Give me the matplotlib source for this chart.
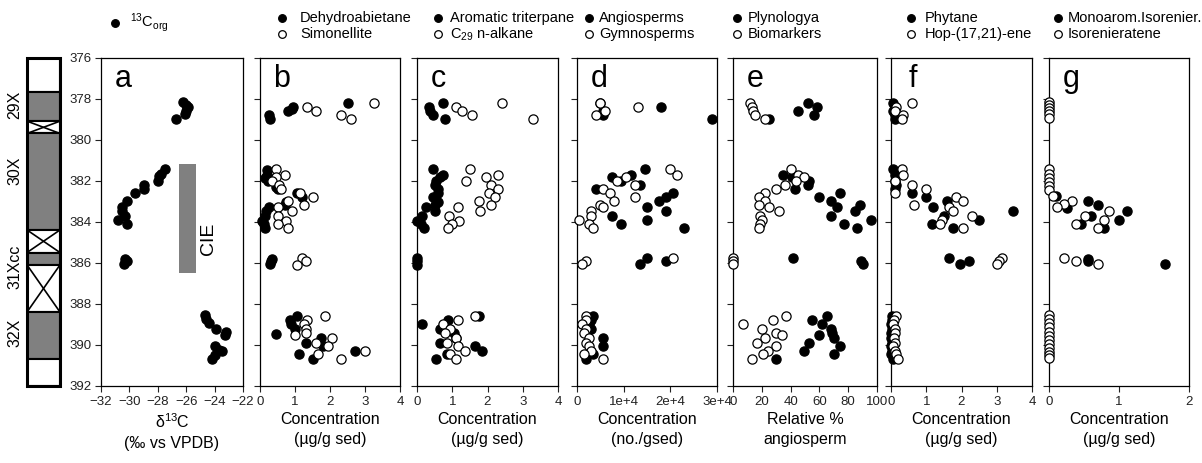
import matplotlib
matplotlib.use('Agg')
import matplotlib.pyplot as plt
from matplotlib.lines import Line2D
from matplotlib.patches import Rectangle

plt.rcParams['font.family'] = ['Liberation Sans', 'DejaVu Sans']
plt.rcParams['mathtext.fontset'] = 'custom'
plt.rcParams['mathtext.rm'] = 'Liberation Sans'
plt.rcParams['mathtext.default'] = 'regular'

# ---- data ----
# panel a : d13C org
a_depth = [378.15, 378.3, 378.4, 378.6, 378.75, 379.0, 381.45, 381.65, 381.75, 382.0, 382.2, 382.4, 382.6,
           383.0, 383.3, 383.5, 383.7, 383.9, 384.1, 385.8, 385.9, 386.05,
           388.55, 388.75, 388.95, 389.2, 389.35, 389.5, 390.05, 390.25, 390.3, 390.5, 390.7]
a_d13c = [-26.2, -26.0, -25.9, -26.0, -26.1, -26.7, -27.5, -27.8, -27.9, -28.0, -29.0, -29.0, -29.6,
          -30.2, -30.5, -30.5, -30.3, -30.8, -30.2, -30.3, -30.2, -30.4,
          -24.7, -24.6, -24.4, -23.9, -23.2, -23.3, -24.0, -23.7, -23.5, -24.0, -24.2]

# panel b
b_dehy_depth = [378.2, 378.4, 378.5, 378.6, 378.8, 379.0, 381.5, 381.7, 381.85, 382.0, 382.3, 382.4,
                382.6, 382.8, 383.05, 383.2, 383.3, 383.5, 383.7, 383.95, 384.1, 384.3, 385.8, 385.9, 386.05,
                388.6, 388.8, 389.0, 389.2, 389.45, 389.65, 389.9, 390.05, 390.3, 390.45, 390.7]
b_dehy = [2.5, 0.95, 0.9, 0.8, 0.25, 0.28, 0.2, 0.2, 0.15, 0.22, 0.45, 0.5,
          1.05, 1.2, 0.75, 0.7, 0.25, 0.18, 0.15, 0.05, 0.1, 0.15, 0.35, 0.32, 0.28,
          1.05, 0.85, 0.88, 1.0, 0.45, 1.75, 1.3, 1.8, 2.7, 1.1, 1.5]
b_simo_depth = [378.2, 378.4, 378.6, 378.8, 379.0, 381.45, 381.7, 381.8, 382.0, 382.2, 382.4, 382.6, 382.8,
                383.0, 383.2, 383.3, 383.5, 383.7, 383.95, 384.1, 384.3, 385.75, 385.9, 386.1,
                388.6, 388.8, 389.0, 389.2, 389.4, 389.5, 389.65, 389.9, 390.05, 390.3, 390.45, 390.7]
b_simo = [3.25, 1.35, 1.6, 2.3, 2.6, 0.45, 0.7, 0.45, 0.33, 0.55, 0.6, 1.15, 1.5,
          0.8, 1.25, 0.5, 0.9, 0.5, 0.75, 0.5, 0.8, 1.2, 1.3, 1.05,
          1.85, 1.35, 1.25, 1.3, 1.3, 1.0, 2.05, 1.6, 1.95, 3.0, 1.65, 2.3]

# panel c
c_arom_depth = [378.2, 378.4, 378.6, 378.8, 379.0, 381.45, 381.7, 381.8, 382.0, 382.2, 382.4, 382.6, 382.8,
                383.05, 383.2, 383.3, 383.5, 383.7, 383.95, 384.1, 384.3, 385.75, 385.9, 386.1,
                388.6, 388.8, 389.0, 389.2, 389.4, 389.65, 389.9, 390.05, 390.3, 390.45, 390.7]
c_arom = [0.75, 0.33, 0.38, 0.45, 0.8, 0.45, 0.75, 0.65, 0.55, 0.5, 0.6, 0.6, 0.45,
          0.6, 0.5, 0.25, 0.5, 0.15, 0.0, 0.1, 0.2, 0.0, 0.0, 0.0,
          1.75, 0.88, 0.15, 0.65, 1.05, 1.1, 0.65, 1.65, 1.85, 0.85, 0.55]
c_alk_depth = [378.2, 378.4, 378.6, 378.8, 379.0, 381.45, 381.7, 381.8, 382.0, 382.2, 382.4, 382.6, 382.8,
               383.0, 383.2, 383.3, 383.5, 383.7, 383.95, 384.1, 384.3,
               388.6, 388.8, 389.0, 389.2, 389.4, 389.65, 389.9, 390.05, 390.3, 390.45, 390.7]
c_alk = [2.4, 1.1, 1.28, 1.55, 3.3, 1.5, 2.3, 1.95, 1.4, 2.1, 2.3, 2.05, 2.2,
         1.75, 2.1, 1.15, 1.8, 0.9, 1.2, 1.0, 0.88,
         1.65, 1.15, 0.75, 0.95, 0.8, 1.1, 0.85, 1.15, 1.35, 0.95, 1.1]

# panel d (no./g sed)
d_angio_depth = [378.2, 378.4, 378.6, 378.8, 379.0, 381.45, 381.7, 381.8, 382.0, 382.2, 382.4, 382.6, 382.8,
                 383.0, 383.3, 383.5, 383.7, 383.9, 384.1, 384.3, 385.75, 385.9, 386.05,
                 388.6, 388.8, 389.0, 389.2, 389.4, 389.65, 390.05, 390.45, 390.7]
d_angio = [5000, 18000, 5500, 5500, 29000, 14500, 11500, 7500, 9500, 13500, 4000, 20500, 19000,
           17500, 15000, 19000, 7500, 15000, 9500, 23000, 15000, 19000, 13500,
           3500, 3000, 2500, 3000, 2000, 5500, 5500, 3500, 2000]
d_gymno_depth = [378.2, 378.4, 378.6, 378.8, 381.45, 381.7, 381.8, 382.0, 382.2, 382.4, 382.6, 382.8,
                 383.0, 383.2, 383.3, 383.5, 383.7, 383.9, 384.1, 384.3, 385.75, 385.9, 386.05,
                 388.6, 388.8, 389.0, 389.2, 389.4, 389.65, 389.9, 390.05, 390.3, 390.45, 390.7]
d_gymno = [5000, 13000, 6000, 4000, 20000, 21500, 10500, 8500, 12500, 5500, 7000, 12500,
           8000, 5000, 5500, 3000, 3000, 500, 2500, 3500, 20500, 2000, 1000,
           2000, 2000, 1000, 2000, 1500, 2500, 2000, 2500, 3000, 1500, 5500]

# panel e (relative % angiosperm)
e_paly_depth = [378.2, 378.4, 378.6, 378.8, 379.0, 381.7, 381.8, 382.0, 382.2, 382.4, 382.6, 382.8,
                383.0, 383.2, 383.3, 383.5, 383.7, 383.9, 384.1, 384.3, 385.75, 385.9, 386.05,
                388.6, 388.8, 389.0, 389.2, 389.4, 389.5, 389.65, 389.9, 390.05, 390.3, 390.45, 390.7]
e_paly = [52, 58, 45, 56, 25, 35, 41, 53, 52, 43, 74, 60,
          68, 88, 72, 85, 68, 96, 77, 86, 42, 89, 90,
          65, 55, 62, 68, 69, 60, 70, 53, 74, 49, 70, 30]
e_bio_depth = [378.2, 378.4, 378.6, 378.8, 379.0, 381.45, 381.7, 381.8, 382.0, 382.2, 382.4, 382.6, 382.8,
               383.0, 383.2, 383.3, 383.5, 383.7, 383.9, 384.1, 384.3, 385.75, 385.9, 386.05,
               388.6, 388.8, 389.0, 389.2, 389.4, 389.5, 389.65, 389.9, 390.05, 390.3, 390.45, 390.7]
e_bio = [12, 13, 14, 15, 22, 40, 45, 49, 44, 36, 30, 22, 18,
         22, 18, 25, 32, 19, 20, 19, 18, 0, 0, 0,
         37, 28, 7, 20, 30, 34, 22, 17, 30, 24, 21, 13]

# panel f
f_phyt_depth = [378.2, 378.4, 378.6, 378.8, 379.0, 381.45, 381.7, 382.0, 382.2, 382.4, 382.6, 382.8,
                383.0, 383.3, 383.5, 383.7, 383.9, 384.1, 384.3, 385.75, 385.9, 386.05,
                388.6, 388.8, 389.0, 389.2, 389.4, 389.65, 389.9, 390.05, 390.3, 390.45, 390.7]
f_phyt = [0.05, 0.1, 0.05, 0.1, 0.1, 0.05, 0.1, 0.12, 0.15, 0.1, 0.6, 1.0,
          1.6, 1.2, 3.45, 1.5, 2.5, 1.15, 1.75, 1.65, 2.2, 1.95,
          0.02, 0.02, 0.0, 0.02, 0.0, 0.0, 0.02, 0.0, 0.02, 0.0, 0.05]
f_hop_depth = [378.2, 378.4, 378.6, 378.8, 379.0, 381.45, 381.7, 382.0, 382.2, 382.4, 382.6, 382.8,
               383.0, 383.2, 383.3, 383.5, 383.7, 383.9, 384.1, 384.3, 385.75, 385.9, 386.05,
               388.6, 388.8, 389.0, 389.2, 389.4, 389.65, 389.9, 390.05, 390.3, 390.45, 390.7]
f_hop = [0.6, 0.15, 0.1, 0.35, 0.3, 0.3, 0.35, 0.1, 0.6, 1.0, 0.12, 1.85,
         2.05, 0.65, 1.65, 1.75, 2.3, 1.45, 1.4, 2.05, 3.15, 3.05, 3.0,
         0.15, 0.08, 0.05, 0.12, 0.1, 0.08, 0.1, 0.05, 0.12, 0.15, 0.2]

# panel g
g_mono_depth = [382.75, 383.0, 383.2, 383.35, 383.5, 383.7, 383.9, 384.1, 384.3, 385.8, 385.9, 386.05]
g_mono = [0.1, 0.55, 0.7, 0.25, 1.12, 0.6, 1.0, 0.45, 0.78, 0.55, 0.55, 1.65]
g_iso_depth = [378.15, 378.3, 378.45, 378.6, 378.75, 378.95, 381.45, 381.65, 381.85, 382.05, 382.25, 382.45,
               382.75, 383.0, 383.15, 383.3, 383.5, 383.7, 383.9, 384.1, 384.3, 385.75, 385.9, 386.05,
               388.55, 388.75, 388.95, 389.15, 389.35, 389.55, 389.75, 389.95, 390.15, 390.35, 390.5, 390.65]
g_iso = [0, 0, 0, 0, 0, 0, 0, 0, 0, 0, 0, 0,
         0.05, 0.33, 0.22, 0.12, 0.85, 0.52, 0.78, 0.38, 0.7, 0.22, 0.38, 0.7,
         0, 0, 0, 0, 0, 0, 0, 0, 0, 0, 0, 0]

# CIE interval bar in panel a
cie_x = (-26.5, -25.3)
cie_depth = (381.2, 386.5)

# core recovery column
core_top = [376.0, 377.7, 379.1, 379.7, 384.4, 385.5, 386.1, 388.4, 390.7]
core_bot = [377.7, 379.1, 379.7, 384.4, 385.5, 386.1, 388.4, 390.7, 392.0]
core_kind = ['white', 'gray', 'cross', 'gray', 'cross', 'gray', 'cross', 'gray', 'white']
core_names = ['29X', '30X', '31Xcc', '32X']
core_name_depth = [378.3, 381.5, 386.2, 389.4]

W, H = 1202, 463
fig = plt.figure(figsize=(W / 100, H / 100), dpi=100)

ax_top, ax_bot = 57.5, 386
def px_axes(x0, x1):
    return fig.add_axes([x0 / W, 1 - ax_bot / H, (x1 - x0) / W, (ax_bot - ax_top) / H])

panel_px = [(101, 243), (260, 400), (417, 558), (577, 717), (733, 877), (891, 1032), (1049, 1189)]
letters = ['a', 'b', 'c', 'd', 'e', 'f', 'g']
xlims = [(-32, -22), (0, 4), (0, 4), (0, 30000), (0, 100), (0, 4), (0, 2)]
xticks = [[-32, -30, -28, -26, -24, -22], [0, 1, 2, 3, 4], [0, 1, 2, 3, 4],
          [0, 10000, 20000, 30000], [0, 20, 40, 60, 80, 100], [0, 1, 2, 3, 4], [0, 1, 2]]
xticklabels = [None, None, None, ['0', '1e+4', '2e+4', '3e+4'], None, None, None]
xlabels = ['δ$^{13}$C\n(‰ vs VPDB)', 'Concentration\n(µg/g sed)', 'Concentration\n(µg/g sed)',
           'Concentration\n(no./gsed)', 'Relative %\nangiosperm', 'Concentration\n(µg/g sed)',
           'Concentration\n(µg/g sed)']

series = [
    [(a_d13c, a_depth, True)],
    [(b_dehy, b_dehy_depth, True), (b_simo, b_simo_depth, False)],
    [(c_arom, c_arom_depth, True), (c_alk, c_alk_depth, False)],
    [(d_angio, d_angio_depth, True), (d_gymno, d_gymno_depth, False)],
    [(e_paly, e_paly_depth, True), (e_bio, e_bio_depth, False)],
    [(f_phyt, f_phyt_depth, True), (f_hop, f_hop_depth, False)],
    [(g_mono, g_mono_depth, True), (g_iso, g_iso_depth, False)],
]

axes = []
for i, (x0, x1) in enumerate(panel_px):
    ax = px_axes(x0, x1)
    axes.append(ax)
    for vals, dep, filled in series[i]:
        ax.scatter(vals, dep, s=44, facecolor='black' if filled else 'white',
                   edgecolor='black', linewidth=0.9, clip_on=False, zorder=3)
    ax.set_xlim(*xlims[i])
    ax.set_ylim(392, 376)
    ax.set_xticks(xticks[i])
    if xticklabels[i] is not None:
        ax.set_xticklabels(xticklabels[i])
    ax.set_yticks(range(376, 393, 2))
    if i > 0:
        ax.set_yticklabels([])
    ax.tick_params(direction='out', length=4, width=0.8, labelsize=9.5, pad=3, colors='#222222')
    ax.set_xlabel(xlabels[i], fontsize=11.5, labelpad=3, linespacing=1.45)
    for sp in ax.spines.values():
        sp.set_linewidth(0.9)
    ax.text(0.155, 0.935, letters[i], transform=ax.transAxes, fontsize=22,
            ha='center', va='center')

# CIE bar
axes[0].fill_betweenx(cie_depth, cie_x[0], cie_x[1], color='#808080', lw=0, zorder=1)
axes[0].text(-24.45, 384.85, 'CIE', rotation=90, fontsize=14, ha='center', va='center')

# core column
core = px_axes(27, 60)
core.set_xlim(0, 1)
core.set_ylim(392, 376)
core.axis('off')
for t, b, k in zip(core_top, core_bot, core_kind):
    core.add_patch(Rectangle((0, t), 1, b - t, facecolor='#808080' if k == 'gray' else 'white',
                             edgecolor='black', lw=1.5))
    if k == 'cross':
        core.plot([0, 1], [t, b], color='black', lw=1.2)
        core.plot([0, 1], [b, t], color='black', lw=1.2)
core.add_patch(Rectangle((0, 376), 1, 16, fill=False, edgecolor='black', lw=2.2, clip_on=False))
for name, dep in zip(core_names, core_name_depth):
    core.text(-0.36, dep, name, rotation=90, fontsize=11.5, ha='center', va='center')

# legends above panels
legend_rows = [18, 34]
legends = [
    (115, 130, [('$^{13}$C$_{org}$', True)], [23]),
    (282, 300, [('Dehydroabietane', True), ('Simonellite', False)], legend_rows),
    (438, 450, [('Aromatic triterpane', True), ('C$_{29}$ n-alkane', False)], legend_rows),
    (589, 599, [('Angiosperms', True), ('Gymnosperms', False)], legend_rows),
    (737, 748, [('Plynologya', True), ('Biomarkers', False)], legend_rows),
    (911, 925, [('Phytane', True), ('Hop-(17,21)-ene', False)], legend_rows),
    (1058, 1068, [('Monoarom.Isorenier.', True), ('Isorenieratene', False)], legend_rows),
]
for xm, xt, entries, rows in legends:
    for (label, filled), y in zip(entries, rows):
        fig.add_artist(Line2D([xm / W], [1 - y / H], marker='o', markersize=5.5,
                              markerfacecolor='black' if filled else 'white',
                              markeredgecolor='black', markeredgewidth=0.9,
                              transform=fig.transFigure))
        fig.text(xt / W, 1 - y / H, label, fontsize=10.5, va='center', ha='left')

fig.savefig('out.png', dpi=100)
